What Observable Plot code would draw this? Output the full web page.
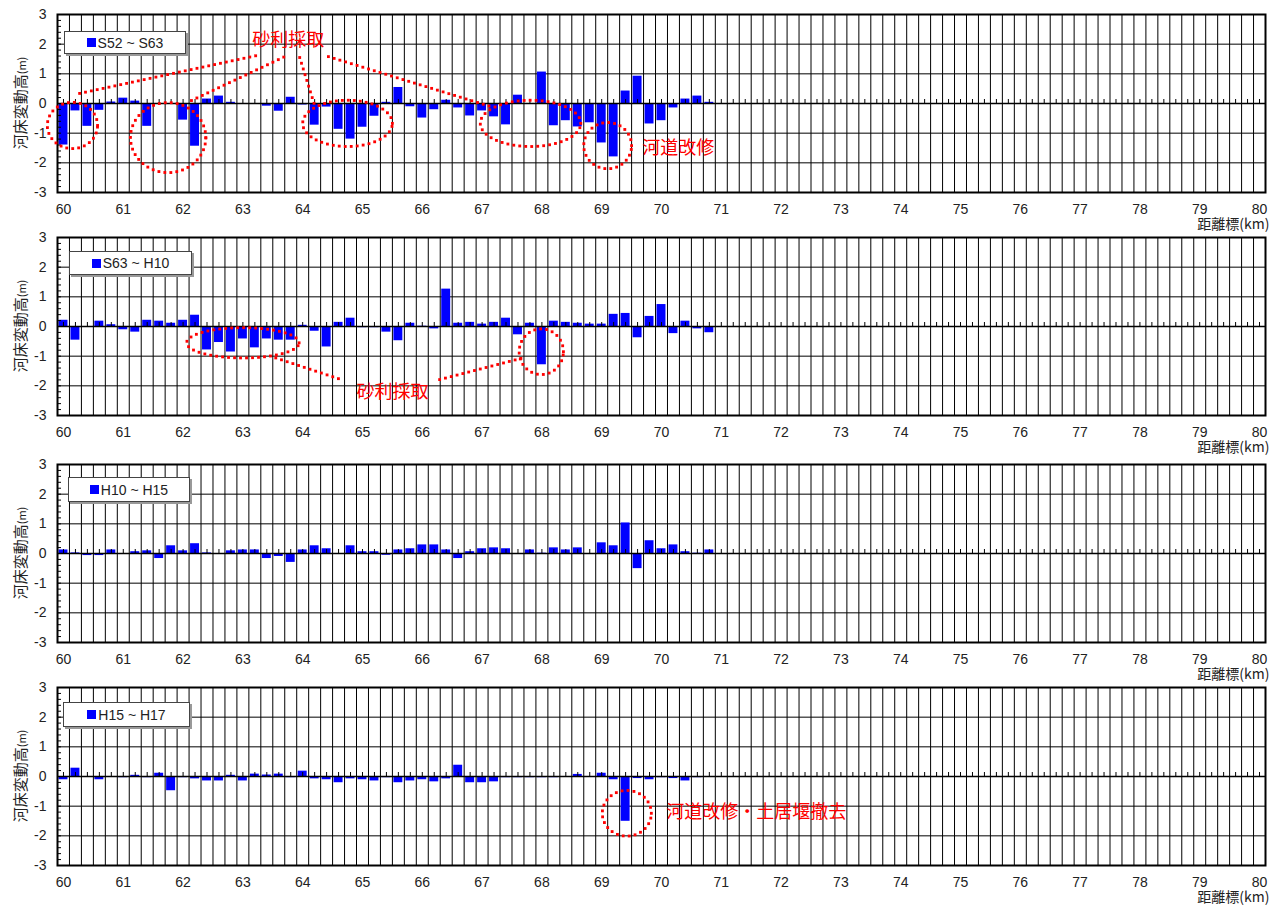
<!DOCTYPE html>
<html>
<head>
<meta charset="utf-8">
<script src="https://cdn.jsdelivr.net/npm/d3@7"></script>
<script src="https://cdn.jsdelivr.net/npm/@observablehq/plot@0.6"></script>
<style>
  body { margin: 0; background: #fff; }
  #wrap { position: relative; width: 1287px; height: 907px; overflow: hidden; font-family: "Liberation Sans", Arial, sans-serif; }
  #wrap svg { position: absolute; left: 0; }
  .legend { position: absolute; background: #fff; border: 1px solid #444; box-shadow: 2px 2px 0 #999; display: flex; align-items: center; justify-content: center; font-size: 14px; color: #222; box-sizing: border-box; font-family: "Liberation Sans", Arial, sans-serif; }
  .legend .sw { display: inline-block; width: 9px; height: 9px; background: #0000ff; margin-right: 2px; }
  .ylab { position: absolute; transform: translate(-50%, -50%) rotate(-90deg); white-space: nowrap; font-family: "Noto Sans CJK JP", sans-serif; font-size: 15px; color: #222; }
  .ylab small { font-size: 11px; }
</style>
</head>
<body>
<div id="wrap"></div>
<script>
// ---- data ----
const stations = [60.0,60.2,60.4,60.6,60.8,61.0,61.2,61.4,61.6,61.8,62.0,62.2,62.4,62.6,62.8,63.0,63.2,63.4,63.6,63.8,64.0,64.2,64.4,64.6,64.8,65.0,65.2,65.4,65.6,65.8,66.0,66.2,66.4,66.6,66.8,67.0,67.2,67.4,67.6,67.8,68.0,68.2,68.4,68.6,68.8,69.0,69.2,69.4,69.6,69.8,70.0,70.2,70.4,70.6,70.8];
const seriesNames = ["S52 ~ S63", "S63 ~ H10", "H10 ~ H15", "H15 ~ H17"];
const s52_s63 = [-1.40,-0.25,-0.77,-0.23,0.05,0.18,0.08,-0.77,0.00,-0.02,-0.56,-1.44,0.15,0.25,0.04,0.00,0.00,-0.09,-0.26,0.21,-0.05,-0.73,-0.12,-0.87,-1.20,-0.80,-0.43,0.04,0.54,-0.11,-0.49,-0.21,0.11,-0.15,-0.42,-0.25,-0.45,-0.72,0.28,0.00,1.06,-0.75,-0.58,-0.79,-0.65,-1.33,-1.80,0.42,0.92,-0.69,-0.58,-0.15,0.15,0.25,0.04];
const s63_h10 = [0.21,-0.46,0.00,0.18,0.06,-0.11,-0.19,0.21,0.18,0.11,0.21,0.38,-0.79,-0.54,-0.86,-0.42,-0.72,-0.42,-0.46,-0.46,0.04,-0.16,-0.69,0.14,0.28,-0.04,-0.04,-0.19,-0.48,0.11,0.01,-0.08,1.26,0.11,0.14,0.08,0.14,0.28,-0.28,0.11,-1.29,0.18,0.14,0.11,0.08,0.08,0.41,0.44,-0.38,0.34,0.74,-0.24,0.18,-0.08,-0.21];
const h10_h15 = [0.12,0.02,-0.07,-0.07,0.12,-0.03,0.06,0.09,-0.17,0.26,0.09,0.33,0.02,-0.03,0.09,0.12,0.12,-0.17,-0.10,-0.30,0.12,0.26,0.16,-0.03,0.26,0.06,0.06,-0.06,0.12,0.16,0.29,0.29,0.12,-0.17,0.06,0.16,0.19,0.16,-0.03,0.12,0.01,0.19,0.12,0.19,0.00,0.36,0.26,1.03,-0.51,0.43,0.16,0.29,0.06,0.01,0.12];
const h15_h17 = [-0.11,0.28,0.00,-0.11,0.00,-0.04,0.04,-0.04,0.11,-0.48,-0.04,-0.08,-0.15,-0.15,0.04,-0.15,0.08,0.05,0.08,-0.04,0.18,-0.08,-0.11,-0.21,-0.08,-0.11,-0.15,-0.04,-0.21,-0.15,-0.11,-0.18,-0.08,0.38,-0.21,-0.21,-0.18,-0.04,-0.04,-0.04,-0.04,-0.04,0.00,0.07,0.00,0.11,-0.11,-1.51,-0.07,-0.11,-0.04,-0.07,-0.15,-0.04,0.00];
const xTickLabels = [60,61,62,63,64,65,66,67,68,69,70,71,72,73,74,75,76,77,78,79,80];
const yTickLabels = [-3,-2,-1,0,1,2,3];
const xAxisTitle = "距離標(km)";

// annotations (data coordinates: km, m)
const annotEllipses = [
  [{x:60.15,y:-0.74,rx:0.42,ry:0.78},{x:61.75,y:-1.15,rx:0.63,ry:1.18},{x:64.75,y:-0.67,rx:0.75,ry:0.78},{x:67.81,y:-0.67,rx:0.84,ry:0.78},{x:69.10,y:-1.42,rx:0.40,ry:0.78}],
  [{x:63.00,y:-0.55,rx:0.94,ry:0.51},{x:67.99,y:-0.85,rx:0.37,ry:0.77}],
  [],
  [{x:69.42,y:-1.24,rx:0.41,ry:0.77}]
];
const annotLinks = [
  [{x1:60.27,y1:0.34,x2:63.24,y2:1.62},{x1:62.14,y1:0.10,x2:63.70,y2:1.58},{x1:63.95,y1:1.55,x2:64.21,y2:-0.13},{x1:64.43,y1:1.58,x2:67.14,y2:-0.10}],
  [{x1:63.55,y1:-1.06,x2:64.60,y2:-1.76},{x1:66.29,y1:-1.79,x2:67.68,y2:-1.06}],
  [],
  []
];
const annotTexts = [
  [{x:63.76,y:2.12,text:"砂利採取",anchor:"middle"},{x:69.68,y:-1.52,text:"河道改修",anchor:"start"}],
  [{x:65.50,y:-2.23,text:"砂利採取",anchor:"middle"}],
  [],
  [{x:70.08,y:-1.19,text:"河道改修・土居堰撤去",anchor:"start"}]
];

// ---- layout ----
const step = 0.2;
const xLo = 60 - step / 2, xHi = 80 + step / 2;
const allStations = d3.range(0, 101).map(i => +(60 + i * step).toFixed(1));
const gridX = allStations.slice(0, -1).map(d => d + step / 2);
const yMinor = d3.range(0, 31).map(i => +(-3 + i * 0.2).toFixed(1));
const panelTops = [4, 227, 454, 677];
const legendBoxes = [[64,31,122,23],[69,251,123,24],[68,477,122,25],[63,702,127,25]];
const allSeries = [s52_s63, s63_h10, h10_h15, h15_h17];

// dotted-line helper: place dots every few pixels along a polyline in data space
const kmPx = 1208 / (xHi - xLo), mPx = 178 / 6, dotGap = 6;
function dotsAlong(pts) {
  const out = [pts[0]];
  let since = 0;
  for (let i = 1; i < pts.length; i++) {
    const a = pts[i - 1], b = pts[i];
    const L = Math.hypot((b.x - a.x) * kmPx, (b.y - a.y) * mPx);
    if (L === 0) continue;
    let t = dotGap - since;
    while (t <= L) {
      out.push({x: a.x + (b.x - a.x) * t / L, y: a.y + (b.y - a.y) * t / L});
      t += dotGap;
    }
    since = L - (t - dotGap);
  }
  return out;
}

const wrap = document.getElementById("wrap");

allSeries.forEach((values, p) => {
  const data = stations.map((km, i) => ({km, v: values[i]}));
  let dots = [];
  annotEllipses[p].forEach(e => {
    const pts = d3.range(0, 721).map(a => {
      const t = a * Math.PI / 360;
      return {x: e.x + e.rx * Math.cos(t), y: e.y + e.ry * Math.sin(t)};
    });
    dots = dots.concat(dotsAlong(pts));
  });
  annotLinks[p].forEach(l => {
    dots = dots.concat(dotsAlong([{x: l.x1, y: l.y1}, {x: l.x2, y: l.y2}]));
  });
  const textFont = '"Noto Sans CJK JP", sans-serif';
  const svg = Plot.plot({
    width: 1287, height: 225,
    marginTop: 10, marginBottom: 37, marginLeft: 57, marginRight: 22,
    style: {fontFamily: '"Liberation Sans", Arial, sans-serif', fontSize: "14px", color: "#222", background: "transparent", overflow: "visible"},
    x: {domain: [xLo, xHi]},
    y: {domain: [-3, 3]},
    marks: [
      Plot.ruleX(gridX, {stroke: "#000", strokeWidth: 1}),
      Plot.ruleY(yTickLabels, {stroke: "#000", strokeWidth: 1}),
      Plot.rectY(data, {x1: d => d.km - step / 2, x2: d => d.km + step / 2, y1: 0, y2: "v", fill: "#0000ff", insetLeft: 1.5, insetRight: 1.5}),
      Plot.ruleY([0], {stroke: "#000", strokeWidth: 1.5}),
      Plot.ruleX(allStations, {x: d => d, y1: 0, y2: 0, insetTop: -4, stroke: "#000"}),
      Plot.ruleY(yMinor, {y: d => d, x1: xLo, x2: xLo, insetRight: -4, stroke: "#000"}),
      Plot.frame({stroke: "#000", strokeWidth: 2}),
      Plot.axisX(xTickLabels, {tickSize: 0, tickPadding: 12, tickFormat: d => String(d), label: null, fontSize: 14}),
      Plot.axisY(yTickLabels, {tickSize: 0, tickPadding: 11, tickFormat: d => String(d), label: null, fontSize: 14}),
      Plot.text([xAxisTitle], {frameAnchor: "bottom-right", dy: 36, dx: 4, textAnchor: "end", fontSize: 14, fontFamily: textFont, fill: "#222"}),
      Plot.dot(dots, {x: "x", y: "y", r: 1.6, symbol: "square", fill: "#ff0000", stroke: null}),
      Plot.text(annotTexts[p].filter(d => d.anchor === "middle"), {x: "x", y: "y", text: "text", textAnchor: "middle", fill: "#ff0000", fontSize: 18, fontFamily: textFont}),
      Plot.text(annotTexts[p].filter(d => d.anchor === "start"), {x: "x", y: "y", text: "text", textAnchor: "start", fill: "#ff0000", fontSize: 18, fontFamily: textFont})
    ]
  });
  svg.style.top = panelTops[p] + "px";
  wrap.appendChild(svg);

  const [lx, ly, lw, lh] = legendBoxes[p];
  const lg = document.createElement("div");
  lg.className = "legend";
  lg.style.left = lx + "px"; lg.style.top = ly + "px";
  lg.style.width = lw + "px"; lg.style.height = lh + "px";
  lg.innerHTML = '<span class="sw"></span><span>' + seriesNames[p] + '</span>';
  wrap.appendChild(lg);

  const yl = document.createElement("div");
  yl.className = "ylab";
  yl.style.left = "19px"; yl.style.top = (panelTops[p] + 10 + 89) + "px";
  yl.innerHTML = '河床変動高<small>(m)</small>';
  wrap.appendChild(yl);
});
</script>
</body>
</html>
